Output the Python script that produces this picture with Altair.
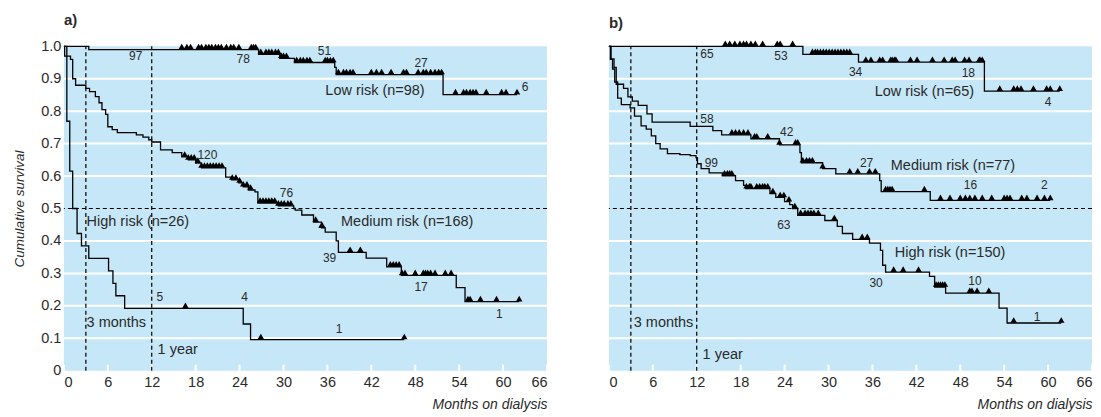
import altair as alt
import pandas as pd

BLUE = "#C5E7F7"
FONT = "Liberation Sans, Arial, sans-serif"
TXT = "#2a2a2a"

x_ticks = list(range(0, 67, 6))
y_ticks = [round(i * 0.1, 1) for i in range(11)]
grid_vals = [0.1, 0.2, 0.3, 0.4, 0.6, 0.7, 0.8, 0.9]
marker_months = [3, 12]
half_line = [0.5]

# ---------------- Panel a ----------------
a_low_t = [0, 3.4, 26.6, 29.5, 31.5, 37.0, 37.2, 51.8]
a_low_s = [1.0, 0.99, 0.975, 0.963, 0.95, 0.935, 0.913, 0.851]
a_low_c = [16.1, 16.8, 17.3, 18.4, 18.8, 19.4, 19.8, 20.2, 20.7, 21.1, 21.5, 22.2, 22.8, 23.2, 23.9,
           25.6, 25.9, 26.2, 26.9, 27.6, 28.0, 28.4, 28.9, 29.3, 29.7, 30.0, 30.4, 31.8, 32.3, 32.7,
           33.2, 33.6, 35.7, 36.0, 36.4, 36.8, 37.5, 38.2, 38.6, 39.1, 39.5, 42.0, 42.7, 43.4, 44.7,
           46.4, 46.8, 48.4, 49.1, 49.5, 50.1, 50.7, 51.2, 51.6, 53.5, 54.6, 55.0, 55.5, 55.9, 56.3,
           57.7, 59.8, 60.4, 61.9]

a_med_t = [0, 0.1, 0.9, 1.2, 1.6, 3.0, 3.5, 4.3, 4.8, 5.2, 5.7, 6.0, 6.6, 7.3, 9.9, 10.8, 11.6, 12.0,
           13.2, 14.8, 16.1, 17.0, 18.0, 18.8, 22.1, 22.9, 23.9, 24.5, 25.2, 26.1, 26.5, 29.3, 31.4,
           31.6, 32.5, 34.1, 35.2, 35.7, 37.2, 37.5, 41.3, 44.1, 46.1, 53.6, 54.8]
a_med_s = [1.0, 0.97, 0.96, 0.90, 0.88, 0.87, 0.86, 0.845, 0.826, 0.805, 0.79, 0.752, 0.743, 0.734,
           0.727, 0.72, 0.712, 0.705, 0.681, 0.672, 0.659, 0.65, 0.64, 0.625, 0.597, 0.588, 0.579,
           0.567, 0.557, 0.551, 0.517, 0.508, 0.50, 0.495, 0.48, 0.458, 0.44, 0.427, 0.40, 0.365,
           0.347, 0.32, 0.294, 0.256, 0.213]
a_med_c = [16.5, 17.0, 17.4, 17.8, 18.3, 18.8, 19.2, 19.6, 20.0, 20.4, 20.8, 21.2, 21.6, 23.0, 23.5,
           24.0, 24.5, 25.0, 25.5, 26.8, 27.2, 27.6, 28.0, 28.4, 28.8, 29.3, 29.7, 30.1, 30.6, 31.0,
           34.4, 35.2, 35.3, 39.1, 40.5, 44.6, 45.0, 45.4, 45.8, 46.2, 46.6, 48.0, 49.1, 49.4, 49.7,
           50.1, 50.7, 52.1, 52.9, 55.2, 55.5, 56.9, 59.1, 62.2]

a_high_t = [0, 0.4, 0.8, 1.2, 1.8, 2.4, 3.4, 6.1, 6.7, 7.1, 8.3, 24.5, 25.5]
a_high_s = [1.0, 0.769, 0.615, 0.5, 0.423, 0.385, 0.346, 0.308, 0.269, 0.231, 0.192, 0.144, 0.096]
a_high_c = [16.6, 26.9, 46.5]

a_num_text = ["97", "78", "51", "27", "6", "120", "76", "39", "17", "1", "5", "4", "1"]
a_num_m = [9.8, 24.5, 35.6, 48.8, 63.0, 19.6, 30.4, 36.3, 48.8, 59.5, 13.1, 24.7, 37.6]
a_num_s = [0.969, 0.960, 0.985, 0.950, 0.876, 0.666, 0.548, 0.347, 0.257, 0.176, 0.226, 0.226, 0.130]
a_grp_text = ["Low risk (n=98)", "Medium risk (n=168)"]
a_grp_m = [42.5, 46.9]
a_grp_s = [0.861, 0.458]
a_left_text = ["High risk (n=26)", "3 months", "1 year"]
a_left_m = [3.1, 3.1, 12.8]
a_left_s = [0.458, 0.146, 0.065]

# ---------------- Panel b ----------------
b_low_t = [0, 26.5, 34.1, 51.3]
b_low_s = [1.0, 0.975, 0.951, 0.862]
b_low_c = [15.9, 16.5, 17.2, 17.9, 18.4, 18.8, 19.4, 20.0, 21.0, 23.0, 23.4, 25.1, 27.8, 28.2, 28.5,
           28.9, 29.3, 29.7, 30.1, 30.5, 30.9, 31.3, 31.7, 32.1, 32.5, 32.9, 35.1, 35.8, 37.0, 37.4,
           38.5, 38.7, 39.0, 39.2, 41.2, 42.1, 44.2, 45.8, 46.9, 47.3, 48.6, 49.2, 50.6, 50.7, 51.0,
           53.4, 55.3, 55.8, 56.3, 58.0, 59.8, 60.3, 61.6]

b_med_t = [0, 0.3, 0.7, 1.0, 2.0, 2.6, 3.2, 4.0, 5.2, 5.9, 11.1, 14.2, 15.4, 19.4, 23.3, 26.1, 26.3,
           29.2, 31.0, 37.0, 37.2, 43.9]
b_med_s = [1.0, 0.961, 0.935, 0.883, 0.870, 0.844, 0.831, 0.818, 0.792, 0.766, 0.753, 0.740, 0.727,
           0.715, 0.696, 0.672, 0.641, 0.623, 0.607, 0.586, 0.552, 0.525]
b_med_c = [16.8, 17.3, 17.8, 18.4, 19.0, 19.9, 20.2, 21.7, 23.3, 25.5, 25.8, 26.5, 27.0, 27.4, 27.8,
           29.2, 32.9, 34.0, 35.6, 36.4, 37.8, 38.1, 38.4, 38.7, 43.1, 45.3, 46.6, 48.0, 48.7, 49.3,
           50.0, 51.0, 52.3, 54.0, 54.4, 54.8, 56.4, 57.1, 58.5, 59.5, 60.3]

b_high_t = [0, 0.2, 0.5, 0.8, 1.2, 1.7, 2.9, 3.5, 4.4, 5.1, 5.8, 6.4, 7.0, 8.0, 9.7, 11.1, 11.9, 12.1,
            12.6, 13.7, 15.5, 17.3, 18.4, 18.7, 22.0, 22.8, 24.0, 24.7, 25.1, 25.8, 29.5, 31.2, 31.9,
            33.3, 35.6, 37.1, 37.4, 37.8, 43.8, 44.5, 46.0, 53.3, 54.4]
b_high_s = [1.0, 0.96, 0.93, 0.89, 0.84, 0.82, 0.81, 0.785, 0.755, 0.745, 0.724, 0.70, 0.684, 0.669,
            0.666, 0.663, 0.657, 0.638, 0.623, 0.61, 0.601, 0.586, 0.571, 0.561, 0.546, 0.534, 0.521,
            0.512, 0.50, 0.479, 0.463, 0.445, 0.423, 0.405, 0.393, 0.371, 0.325, 0.304, 0.291, 0.258,
            0.239, 0.193, 0.147]
b_high_c = [15.8, 16.2, 16.5, 16.8, 18.8, 19.2, 19.4, 20.2, 20.6, 21.0, 21.3, 21.7, 22.4, 23.4, 23.9,
            24.6, 25.4, 26.2, 26.8, 27.2, 27.6, 28.0, 28.6, 30.8, 34.6, 35.3, 38.9, 40.2, 42.3, 44.7,
            45.0, 45.3, 45.6, 45.9, 49.3, 49.6, 50.3, 51.9, 55.3, 61.8]

b_num_text = ["65", "53", "34", "18", "4", "58", "42", "27", "16", "2", "99", "63", "30", "10", "1"]
b_num_m = [13.4, 23.5, 33.7, 49.1, 60.0, 13.4, 24.3, 35.2, 49.4, 59.5, 14.0, 23.9, 36.5, 50.0, 58.5]
b_num_s = [0.975, 0.969, 0.920, 0.917, 0.828, 0.776, 0.736, 0.641, 0.571, 0.571, 0.641, 0.448, 0.270,
           0.276, 0.166]
b_grp_text = ["Low risk (n=65)", "Medium risk (n=77)", "High risk (n=150)"]
b_grp_m = [43.1, 47.0, 46.6]
b_grp_s = [0.859, 0.632, 0.362]
b_left_text = ["3 months", "1 year"]
b_left_m = [3.4, 12.8]
b_left_s = [0.147, 0.049]

W, H = 484, 325


def step_rows(t, s, c, g):
    end = max([t[-1]] + list(c))
    rows = [{"m": ti, "s": si, "g": g} for ti, si in zip(t, s)]
    rows.append({"m": end, "s": s[-1], "g": g})
    return rows


def cens_rows(t, s, c, g):
    rows = []
    for ci in c:
        k = max(i for i, ti in enumerate(t) if ti <= ci)
        rows.append({"m": ci, "s": s[k], "g": g})
    return rows


def panel(groups, nums, grps, lefts, title, show_y):
    steps = pd.DataFrame([r for g in groups for r in step_rows(*g)])
    cens = pd.DataFrame([r for g in groups for r in cens_rows(*g)])
    xs = alt.Scale(domain=[0, 66], nice=False, zero=False)
    ys = alt.Scale(domain=[0, 1], nice=False)
    xax = alt.Axis(values=x_ticks, grid=False, ticks=False, domain=False,
                   labelFont=FONT, labelFontSize=14.5, labelColor=TXT, labelPadding=5,
                   title="Months on dialysis", titleFont=FONT, titleFontSize=14,
                   titleFontStyle="italic", titleFontWeight="normal", titleColor=TXT,
                   titleAnchor="end", titlePadding=8)
    if show_y:
        yax = alt.Axis(values=y_ticks, grid=False, ticks=False, domain=False,
                       labelExpr="datum.value == 0 ? '0' : format(datum.value, '.1f')",
                       labelFont=FONT, labelFontSize=14.5, labelColor=TXT, labelPadding=3,
                       title="Cumulative survival", titleFont=FONT, titleFontSize=13.5,
                       titleFontStyle="italic", titleFontWeight="normal", titleColor=TXT,
                       titlePadding=14)
    else:
        yax = alt.Axis(values=y_ticks, grid=False, ticks=False, domain=False, labels=False,
                       title=None)

    def X(f):
        return alt.X(f, type="quantitative", scale=xs, axis=xax)

    def Y(f):
        return alt.Y(f, type="quantitative", scale=ys, axis=yax)

    grid = alt.Chart(pd.DataFrame({"v": grid_vals})).mark_rule(
        color="white", strokeWidth=2).encode(y=Y("v"))
    xt = alt.Chart(pd.DataFrame({"v": x_ticks})).mark_rule(
        color="white", strokeWidth=2).encode(x=X("v"), y=alt.value(H), y2=alt.value(H - 6))
    dv = alt.Chart(pd.DataFrame({"v": marker_months, "y0": [0] * 2, "y1": [1] * 2})).mark_rule(
        color="black", strokeDash=[4, 3], strokeWidth=1.2).encode(x=X("v"), y=Y("y0"), y2="y1")
    dh = alt.Chart(pd.DataFrame({"h": half_line})).mark_rule(
        color="black", strokeDash=[4, 3], strokeWidth=1.2).encode(y=Y("h"))
    lines = alt.Chart(steps).mark_line(
        interpolate="step-after", color="black", strokeWidth=1.3).encode(
        x=X("m"), y=Y("s"), detail="g:N", order="m:Q")
    pts = alt.Chart(cens).mark_point(
        shape="triangle-up", filled=True, color="black", opacity=1, size=42, yOffset=-3).encode(
        x=X("m"), y=Y("s"))
    ndf = pd.DataFrame({"t": nums[0], "m": nums[1], "s": nums[2]})
    gdf = pd.DataFrame({"t": grps[0], "m": grps[1], "s": grps[2]})
    ldf = pd.DataFrame({"t": lefts[0], "m": lefts[1], "s": lefts[2]})
    ntext = alt.Chart(ndf).mark_text(font=FONT, fontSize=12, color=TXT, align="center",
                                     baseline="middle").encode(x=X("m"), y=Y("s"), text="t:N")
    gtext = alt.Chart(gdf).mark_text(font=FONT, fontSize=14.5, color=TXT, align="center",
                                     baseline="middle").encode(x=X("m"), y=Y("s"), text="t:N")
    ltext = alt.Chart(ldf).mark_text(font=FONT, fontSize=14.5, color=TXT, align="left",
                                     baseline="middle").encode(x=X("m"), y=Y("s"), text="t:N")
    return alt.layer(grid, xt, dv, dh, lines, pts, ntext, gtext, ltext).properties(
        width=W, height=H,
        title=alt.TitleParams(title, anchor="start", frame="group", font=FONT, fontSize=15,
                              fontWeight="bold", color=TXT, offset=10))


pa = panel([(a_low_t, a_low_s, a_low_c, "low"), (a_med_t, a_med_s, a_med_c, "med"),
            (a_high_t, a_high_s, a_high_c, "high")],
           (a_num_text, a_num_m, a_num_s), (a_grp_text, a_grp_m, a_grp_s),
           (a_left_text, a_left_m, a_left_s), "a)", True)
pb = panel([(b_low_t, b_low_s, b_low_c, "low"), (b_med_t, b_med_s, b_med_c, "med"),
            (b_high_t, b_high_s, b_high_c, "high")],
           (b_num_text, b_num_m, b_num_s), (b_grp_text, b_grp_m, b_grp_s),
           (b_left_text, b_left_m, b_left_s), "b)", False)

chart = alt.hconcat(pa, pb, spacing=62, bounds="flush").properties(
    padding={"left": 4, "top": 5, "right": 0, "bottom": 0}, background="white"
).configure_view(fill=BLUE, strokeWidth=0)

chart.save("out.html", embed_options={"renderer": "svg", "actions": False})
